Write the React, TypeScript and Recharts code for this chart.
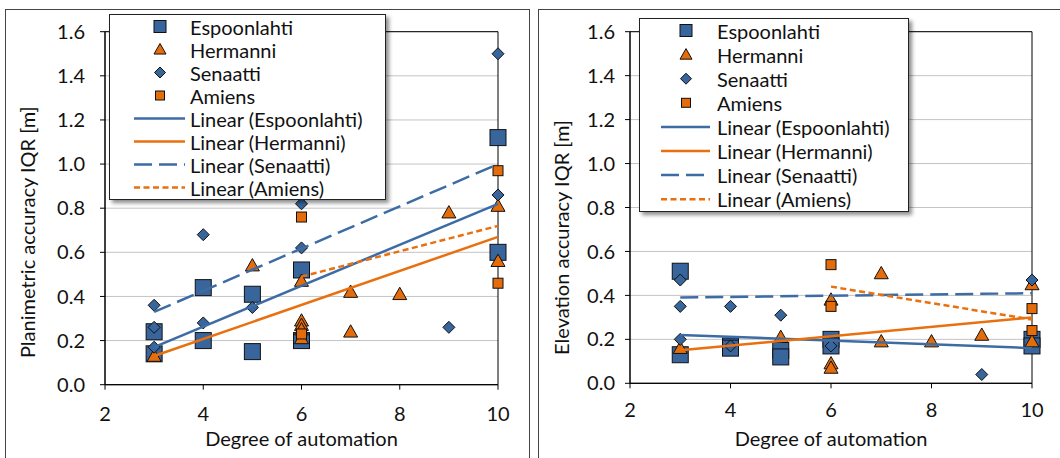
import React from "react";
import { ScatterChart, Scatter, XAxis, YAxis, CartesianGrid, ReferenceArea, Legend } from "recharts";

type P = [number, number];

// ---------- data ----------
const xTicks = [2, 4, 6, 8, 10];
const yTicks = [0, 0.2, 0.4, 0.6, 0.8, 1.0, 1.2, 1.4, 1.6];
const seriesNames = ["Espoonlahti", "Hermanni", "Senaatti", "Amiens"];
const xTitle = "Degree of automation";
const yTitleLeft = "Planimetric accuracy IQR [m]";
const yTitleRight = "Elevation accuracy IQR [m]";

// Planimetric accuracy
const planEspoonlahti: P[] = [[3, 0.24], [3, 0.14], [4, 0.44], [4, 0.2], [5, 0.41], [5, 0.15], [6, 0.52], [6, 0.2], [10, 1.12], [10, 0.6]];
const planHermanni: P[] = [[3, 0.13], [5, 0.54], [6, 0.47], [6, 0.29], [6, 0.27], [6, 0.25], [6, 0.21], [7, 0.42], [7, 0.24], [8, 0.41], [9, 0.78], [10, 0.81], [10, 0.56]];
const planSenaatti: P[] = [[3, 0.36], [3, 0.26], [3, 0.17], [4, 0.68], [4, 0.28], [5, 0.35], [6, 0.82], [6, 0.62], [9, 0.26], [10, 1.5], [10, 0.86]];
const planAmiens: P[] = [[6, 0.76], [6, 0.23], [10, 0.97], [10, 0.46]];
const planTrendEspoonlahti: P[] = [[3, 0.17], [10, 0.82]];
const planTrendHermanni: P[] = [[3, 0.13], [10, 0.67]];
const planTrendSenaatti: P[] = [[3, 0.33], [10, 1.0]];
const planTrendAmiens: P[] = [[6, 0.49], [10, 0.72]];

// Elevation accuracy
const elevEspoonlahti: P[] = [[3, 0.51], [3, 0.13], [4, 0.17], [4, 0.16], [5, 0.15], [5, 0.12], [6, 0.2], [6, 0.17], [10, 0.2], [10, 0.17]];
const elevHermanni: P[] = [[3, 0.16], [5, 0.21], [6, 0.38], [6, 0.09], [6, 0.07], [7, 0.5], [7, 0.19], [8, 0.19], [9, 0.22], [10, 0.45], [10, 0.19]];
const elevSenaatti: P[] = [[3, 0.47], [3, 0.35], [3, 0.2], [4, 0.35], [4, 0.17], [5, 0.31], [6, 0.17], [9, 0.04], [10, 0.47]];
const elevAmiens: P[] = [[6, 0.54], [6, 0.35], [10, 0.34], [10, 0.24]];
const elevTrendEspoonlahti: P[] = [[3, 0.22], [10, 0.16]];
const elevTrendHermanni: P[] = [[3, 0.15], [10, 0.3]];
const elevTrendSenaatti: P[] = [[3, 0.39], [10, 0.41]];
const elevTrendAmiens: P[] = [[6, 0.44], [10, 0.29]];

// ---------- styling ----------
const BLUE = "#38659C";
const ORANGE = "#E46C0A";
const LINE_BLUE = "#3D6CA5";
const LINE_ORANGE = "#E8700F";
const EDGE = "#111";
const TEXT = "#111";
const FONT = "Lato, 'Open Sans', sans-serif";

const toPts = (arr: P[]) => arr.map(([x, y]) => ({ x, y }));

const drawSquare = (cx: number, cy: number, s: number, fill: string) => (
  <rect x={cx - s / 2} y={cy - s / 2} width={s} height={s} fill={fill} stroke={EDGE} strokeWidth={1} />
);
const drawTriangle = (cx: number, cy: number, w: number, fill: string) => (
  <path
    d={`M${cx} ${cy - w * 0.5} L${cx + w / 2} ${cy + w * 0.38} L${cx - w / 2} ${cy + w * 0.38} Z`}
    fill={fill}
    stroke={EDGE}
    strokeWidth={1}
  />
);
const drawDiamond = (cx: number, cy: number, s: number, fill: string) => (
  <path d={`M${cx} ${cy - s / 2} L${cx + s / 2} ${cy} L${cx} ${cy + s / 2} L${cx - s / 2} ${cy} Z`} fill={fill} stroke={EDGE} strokeWidth={1} />
);

const shapeEsp = (p: any) => (p.cx == null ? <g /> : drawSquare(p.cx, p.cy, 16, BLUE));
const shapeHer = (p: any) => (p.cx == null ? <g /> : drawTriangle(p.cx, p.cy, 14, ORANGE));
const shapeSen = (p: any) => (p.cx == null ? <g /> : drawDiamond(p.cx, p.cy, 12, BLUE));
const shapeAmi = (p: any) => (p.cx == null ? <g /> : drawSquare(p.cx, p.cy, 10, ORANGE));
const noShape = () => <g />;

type LegendGeo = {
  left: number; top: number; width: number; height: number;
  rowStart: number; rowStep: number; symX: number; lineX1: number; lineX2: number; textX: number;
};

const LegendBox = ({ g }: { g: LegendGeo }) => {
  const lineStyles = [
    { stroke: LINE_BLUE, dash: undefined as string | undefined },
    { stroke: LINE_ORANGE, dash: undefined as string | undefined },
    { stroke: LINE_BLUE, dash: "18 7" },
    { stroke: LINE_ORANGE, dash: "6 3.5" },
  ];
  const markerFns = [
    (cx: number, cy: number) => drawSquare(cx, cy, 12, BLUE),
    (cx: number, cy: number) => drawTriangle(cx, cy, 12, ORANGE),
    (cx: number, cy: number) => drawDiamond(cx, cy, 11, BLUE),
    (cx: number, cy: number) => drawSquare(cx, cy, 9, ORANGE),
  ];
  return (
    <div
      style={{
        width: g.width,
        height: g.height,
        boxSizing: "border-box",
        border: "1px solid #222",
        background: "#fff",
        boxShadow: "3px 3px 4px rgba(0,0,0,0.45)",
      }}
    >
      <svg width={g.width - 2} height={g.height - 2} style={{ display: "block", fontFamily: FONT }}>
        {seriesNames.map((n, i) => {
          const cy = g.rowStart + i * g.rowStep;
          return (
            <g key={"m" + n}>
              {markerFns[i](g.symX, cy)}
              <text x={g.textX} y={cy} dominantBaseline="central" fontSize={20} fill={TEXT}>
                {n}
              </text>
            </g>
          );
        })}
        {seriesNames.map((n, i) => {
          const cy = g.rowStart + (i + 4) * g.rowStep;
          return (
            <g key={"l" + n}>
              <line x1={g.lineX1} x2={g.lineX2} y1={cy} y2={cy} stroke={lineStyles[i].stroke} strokeWidth={2.5} strokeDasharray={lineStyles[i].dash} />
              <text x={g.textX} y={cy} dominantBaseline="central" fontSize={20} fill={TEXT}>
                {`Linear (${n})`}
              </text>
            </g>
          );
        })}
      </svg>
    </div>
  );
};

type Geo = {
  left: number; top: number; width: number; height: number;
  yAxisWidth: number; marginTop: number; marginRight: number; marginBottom: number; xAxisHeight: number;
  yTickMargin: number; xTickMargin: number; xLabelOffset: number; yLabelDx: number; yLabelDy: number;
  legend: LegendGeo;
};

type PanelData = {
  esp: P[]; her: P[]; sen: P[]; ami: P[];
  tEsp: P[]; tHer: P[]; tSen: P[]; tAmi: P[];
  yTitle: string;
};

const Panel = ({ geo, d }: { geo: Geo; d: PanelData }) => (
  <div style={{ position: "absolute", left: geo.left, top: geo.top, fontFamily: FONT }}>
    <ScatterChart
      width={geo.width}
      height={geo.height}
      margin={{ top: geo.marginTop, right: geo.marginRight, left: 0, bottom: geo.marginBottom }}
    >
      <CartesianGrid horizontal vertical={false} stroke="#c4c4c4" strokeWidth={1} />
      <XAxis
        type="number"
        dataKey="x"
        domain={[2, 10]}
        ticks={xTicks}
        interval={0}
        height={geo.xAxisHeight}
        tickSize={5}
        tickMargin={geo.xTickMargin}
        axisLine={{ stroke: "#000" }}
        tickLine={{ stroke: "#000" }}
        tick={{ fontSize: 20, fill: TEXT }}
        label={{ value: xTitle, position: "insideBottom", offset: geo.xLabelOffset, fontSize: 20, fill: TEXT }}
      />
      <YAxis
        type="number"
        dataKey="y"
        domain={[0, 1.6]}
        ticks={yTicks}
        interval={0}
        width={geo.yAxisWidth}
        tickSize={5}
        tickMargin={geo.yTickMargin}
        axisLine={{ stroke: "#000" }}
        tickLine={{ stroke: "#000" }}
        tick={{ fontSize: 20, fill: TEXT }}
        tickFormatter={(v: number) => v.toFixed(1)}
        label={{ value: d.yTitle, angle: -90, position: "center", dx: geo.yLabelDx, dy: geo.yLabelDy, fontSize: 20, fill: TEXT }}
      />
      <ReferenceArea x1={2} x2={10} y1={0} y2={1.6} fill="none" fillOpacity={0} stroke="#000" strokeWidth={1} />
      <Scatter name={seriesNames[0]} data={toPts(d.esp)} shape={shapeEsp} isAnimationActive={false} />
      <Scatter name={seriesNames[1]} data={toPts(d.her)} shape={shapeHer} isAnimationActive={false} />
      <Scatter name={seriesNames[2]} data={toPts(d.sen)} shape={shapeSen} isAnimationActive={false} />
      <Scatter name={seriesNames[3]} data={toPts(d.ami)} shape={shapeAmi} isAnimationActive={false} />
      <Scatter data={toPts(d.tEsp)} shape={noShape} lineType="joint" line={{ stroke: LINE_BLUE, strokeWidth: 2.5, fill: "none" }} isAnimationActive={false} />
      <Scatter data={toPts(d.tHer)} shape={noShape} lineType="joint" line={{ stroke: LINE_ORANGE, strokeWidth: 2.5, fill: "none" }} isAnimationActive={false} />
      <Scatter data={toPts(d.tSen)} shape={noShape} lineType="joint" line={{ stroke: LINE_BLUE, strokeWidth: 2.5, strokeDasharray: "18 7", fill: "none" }} isAnimationActive={false} />
      <Scatter data={toPts(d.tAmi)} shape={noShape} lineType="joint" line={{ stroke: LINE_ORANGE, strokeWidth: 2.5, strokeDasharray: "6 3.5", fill: "none" }} isAnimationActive={false} />
      <Legend
        layout="horizontal"
        verticalAlign="middle"
        align="center"
        wrapperStyle={{ left: geo.legend.left, top: geo.legend.top, width: geo.legend.width, height: geo.legend.height }}
        content={() => <LegendBox g={geo.legend} />}
      />
    </ScatterChart>
  </div>
);

const leftGeo: Geo = {
  left: 5, top: 9, width: 524, height: 460,
  yAxisWidth: 100, marginTop: 22.7, marginRight: 31, marginBottom: 20.3, xAxisHeight: 64,
  yTickMargin: 15, xTickMargin: 17, xLabelOffset: 2.7, yLabelDx: -27, yLabelDy: 24,
  legend: { left: 104, top: 5, width: 277, height: 186, rowStart: 11.5, rowStep: 23, symX: 50, lineX1: 24, lineX2: 75, textX: 80 },
};

const rightGeo: Geo = {
  left: 538, top: 9, width: 522, height: 460,
  yAxisWidth: 92, marginTop: 22.7, marginRight: 28, marginBottom: 21.7, xAxisHeight: 64,
  yTickMargin: 10, xTickMargin: 14.5, xLabelOffset: 1.3, yLabelDx: -22, yLabelDy: 30,
  legend: { left: 101, top: 9, width: 270, height: 194, rowStart: 11.5, rowStep: 24.1, symX: 46, lineX1: 21, lineX2: 70, textX: 77 },
};

const leftData: PanelData = {
  esp: planEspoonlahti, her: planHermanni, sen: planSenaatti, ami: planAmiens,
  tEsp: planTrendEspoonlahti, tHer: planTrendHermanni, tSen: planTrendSenaatti, tAmi: planTrendAmiens,
  yTitle: yTitleLeft,
};

const rightData: PanelData = {
  esp: elevEspoonlahti, her: elevHermanni, sen: elevSenaatti, ami: elevAmiens,
  tEsp: elevTrendEspoonlahti, tHer: elevTrendHermanni, tSen: elevTrendSenaatti, tAmi: elevTrendAmiens,
  yTitle: yTitleRight,
};

export default function App() {
  return (
    <div style={{ position: "absolute", left: 0, top: 0, width: 1060, height: 458, overflow: "hidden", background: "#fff" }}>
      <div style={{ position: "absolute", left: 5, top: 9, width: 523, height: 470, border: "1px solid #444" }} />
      <div style={{ position: "absolute", left: 538, top: 9, width: 530, height: 470, border: "1px solid #444" }} />
      <Panel geo={leftGeo} d={leftData} />
      <Panel geo={rightGeo} d={rightData} />
    </div>
  );
}
